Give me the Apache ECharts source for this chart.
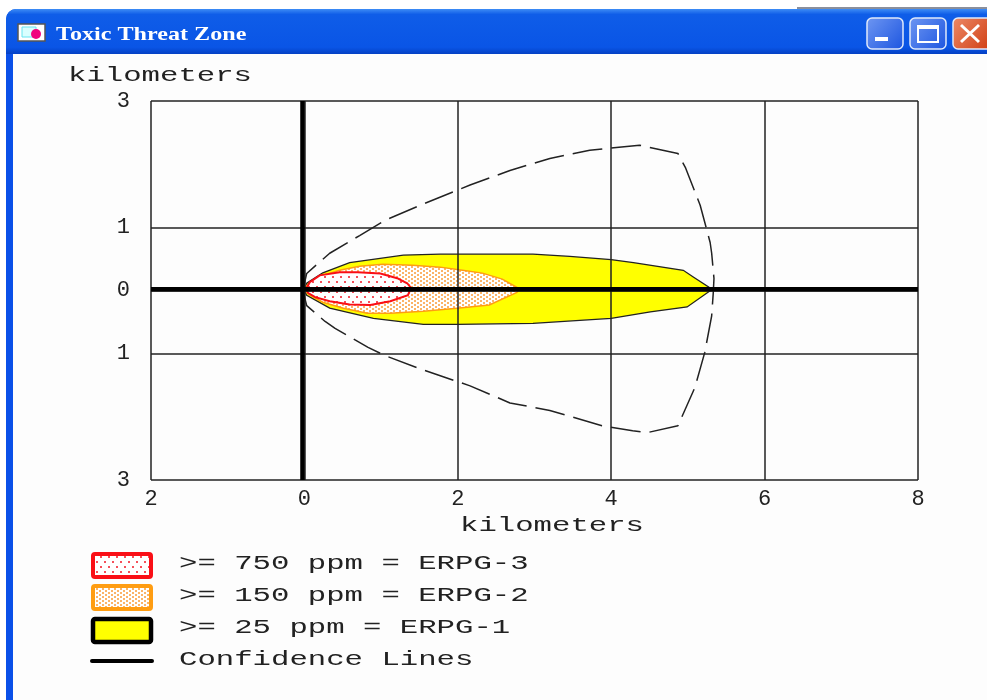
<!DOCTYPE html>
<html>
<head>
<meta charset="utf-8">
<title>Toxic Threat Zone</title>
<style>
  html, body { margin: 0; padding: 0; background: #fff; }
  #chart { width: 987px; height: 700px; }
</style>
<script src="https://cdn.jsdelivr.net/npm/echarts@6/dist/echarts.min.js"></script>
</head>
<body>
<div id="chart"></div>
<script>
// values, in kilometers [downwind, crosswind]
const erpg1Zone = [
  [0, 0], [0.03, 0.115], [0.24, 0.28], [0.59, 0.44], [1.29, 0.56], [1.77, 0.575], [2.98, 0.575],
  [3.46, 0.54], [4.00, 0.49], [4.29, 0.44], [4.94, 0.32], [5.07, 0.215], [5.29, 0.04], [5.31, 0.005],
  [5.29, -0.005], [4.99, -0.26], [4.51, -0.34], [4.00, -0.44], [2.98, -0.52], [1.99, -0.535],
  [1.55, -0.535], [0.90, -0.44], [0.33, -0.28], [0.03, -0.075]
];
const erpg2Zone = [
  [0, 0], [0.03, 0.08], [0.24, 0.24], [0.46, 0.32], [0.72, 0.385], [1.02, 0.415], [1.41, 0.40],
  [1.77, 0.37], [2.06, 0.32], [2.32, 0.275], [2.58, 0.18], [2.77, 0.05], [2.79, 0],
  [2.77, -0.03], [2.41, -0.23], [1.99, -0.28], [1.55, -0.33], [1.12, -0.36], [0.82, -0.36],
  [0.51, -0.28], [0.24, -0.185], [0.07, -0.07]
];
const erpg3Zone = [
  [0.02, 0.02], [0.07, 0.13], [0.20, 0.24], [0.46, 0.29], [0.69, 0.29], [0.99, 0.27], [1.21, 0.195],
  [1.34, 0.115], [1.39, 0.04], [1.35, -0.075], [1.12, -0.17], [0.86, -0.23], [0.59, -0.22],
  [0.33, -0.17], [0.14, -0.105], [0.05, -0.04]
];
const confidenceLine = [
  [-0.02, 0], [0.03, 0.27], [0.18, 0.43], [0.33, 0.59], [0.72, 0.87], [1.05, 1.11], [1.51, 1.35],
  [2.16, 1.67], [2.68, 1.90], [3.20, 2.09], [3.72, 2.22], [4.37, 2.30], [4.87, 2.17],
  [4.97, 1.94], [5.16, 1.35], [5.29, 0.76], [5.31, 0.59], [5.34, 0.19], [5.33, -0.05],
  [5.31, -0.40], [5.22, -0.98], [5.09, -1.54], [4.87, -2.14], [4.47, -2.25], [4.28, -2.22],
  [3.88, -2.14], [3.20, -1.90], [2.68, -1.78], [2.16, -1.51], [1.51, -1.24], [1.05, -1.03],
  [0.83, -0.90], [0.40, -0.60], [0.27, -0.49], [0.03, -0.24], [-0.02, 0]
];
const xTickValues = [-2, 0, 2, 4, 6, 8];
const yTickValues = [-3, -1, 0, 1, 3];
const axisLineX = [[-2, 0.02], [8, 0.02]];
const axisLineY = [[-0.025, -3], [-0.025, 3]];
const legendLabels = [
  '>= 750 ppm = ERPG-3',
  '>= 150 ppm = ERPG-2',
  '>= 25 ppm = ERPG-1',
  'Confidence Lines'
];
const windowTitle = 'Toxic Threat Zone';
const axisName = 'kilometers';

const TEXT_COLOR = '#222';
const MONO = '"Liberation Mono", monospace';

function dotPattern(w, h, bg, dot, size, spots) {
  const c = document.createElement('canvas');
  c.width = w;
  c.height = h;
  const ctx = c.getContext('2d');
  ctx.fillStyle = bg;
  ctx.fillRect(0, 0, w, h);
  ctx.fillStyle = dot;
  spots.forEach(s => ctx.fillRect(s[0], s[1], size, size));
  return { image: c, repeat: 'repeat' };
}
const redDots = dotPattern(8, 10, '#fff', '#f5505a', 2, [[0, 1], [4, 6]]);
const orangeDots = dotPattern(6, 4, '#fff', '#fbb468', 2, [[0, 0], [3, 2]]);

function zoneSeries(name, points, fill, stroke, width) {
  return {
    type: 'custom',
    name: name,
    coordinateSystem: 'cartesian2d',
    data: points,
    z: 2,
    silent: true,
    renderItem: function (params, api) {
      if (params.dataIndex !== 0) return;
      return {
        type: 'polygon',
        shape: { points: points.map(p => api.coord(p)) },
        style: { fill: fill, stroke: stroke, lineWidth: width }
      };
    }
  };
}

// stretched text, the old screen font is about 1.45x wider than Liberation Mono
function wideText(x, y, str, align) {
  return {
    type: 'text',
    x: x,
    y: y,
    scaleX: 1.46,
    z: 10,
    style: {
      text: str,
      fill: TEXT_COLOR,
      font: '21px ' + MONO,
      textAlign: align || 'left',
      textVerticalAlign: 'middle'
    }
  };
}

function swatch(y, fill, stroke, width) {
  return {
    type: 'rect',
    shape: { x: 93, y: y, width: 58, height: 23, r: 2 },
    z: 10,
    style: { fill: fill, stroke: stroke, lineWidth: width }
  };
}

function capButton(x, w, c1, c2) {
  return {
    type: 'rect',
    shape: { x: x, y: 18, width: w, height: 31, r: 5 },
    z: 1,
    style: {
      stroke: '#dfe9fb',
      lineWidth: 1.5,
      fill: new echarts.graphic.LinearGradient(0, 0, 1, 1, [
        { offset: 0, color: c1 },
        { offset: 1, color: c2 }
      ])
    }
  };
}

const windowFrame = [
  { type: 'rect', shape: { x: 797, y: 7, width: 190, height: 2 }, z: 0, style: { fill: '#8a8f9c' } },
  { type: 'rect', shape: { x: 6, y: 9, width: 981, height: 691, r: [10, 0, 0, 0] }, z: 0,
    style: { fill: '#0a50e8' } },
  { type: 'rect', shape: { x: 6, y: 9, width: 981, height: 45, r: [10, 0, 0, 0] }, z: 0,
    style: { fill: new echarts.graphic.LinearGradient(0, 0, 0, 1, [
      { offset: 0, color: '#3d8cf5' },
      { offset: 0.12, color: '#0f5de8' },
      { offset: 0.85, color: '#0a55e6' },
      { offset: 1, color: '#0440c4' }
    ]) } },
  { type: 'rect', shape: { x: 13, y: 54, width: 974, height: 646 }, z: 0, style: { fill: '#fdfdfd' } },
  // title bar icon
  { type: 'rect', shape: { x: 18, y: 24, width: 27, height: 17 }, z: 1,
    style: { fill: '#fff', stroke: '#555', lineWidth: 1.5 } },
  { type: 'rect', shape: { x: 22, y: 27, width: 14, height: 10 }, z: 1,
    style: { fill: '#d9ffff', stroke: '#66e5f0', lineWidth: 1 } },
  { type: 'circle', shape: { cx: 36, cy: 34, r: 5 }, z: 1, style: { fill: '#f0047f' } },
  { type: 'text', x: 56, y: 35, z: 1, scaleX: 1.27, style: {
    text: windowTitle, fill: '#fff', font: 'bold 19px "Liberation Serif", serif',
    textVerticalAlign: 'middle', shadowColor: '#06246e', shadowBlur: 1, shadowOffsetX: 1, shadowOffsetY: 1 } },
  // caption buttons
  capButton(867, 36, '#6f97f2', '#1c55e0'),
  { type: 'rect', shape: { x: 875, y: 37, width: 13, height: 4 }, z: 2, style: { fill: '#fff' } },
  capButton(910, 36, '#6f97f2', '#1c55e0'),
  { type: 'rect', shape: { x: 918, y: 27, width: 20, height: 15 }, z: 2,
    style: { fill: 'transparent', stroke: '#fff', lineWidth: 2 } },
  { type: 'rect', shape: { x: 917, y: 25, width: 22, height: 4 }, z: 2, style: { fill: '#fff' } },
  capButton(953, 40, '#ec8a68', '#cf3a0e'),
  { type: 'line', shape: { x1: 961, y1: 25, x2: 979, y2: 42 }, z: 2, style: { stroke: '#fff', lineWidth: 3 } },
  { type: 'line', shape: { x1: 979, y1: 25, x2: 961, y2: 42 }, z: 2, style: { stroke: '#fff', lineWidth: 3 } }
];

const legendGraphics = [
  swatch(554, redDots, '#fa0f16', 4),
  swatch(586, orangeDots, '#ff9d12', 4),
  swatch(619, '#ffff00', '#000', 4.5),
  { type: 'line', shape: { x1: 92, y1: 661, x2: 152, y2: 661 }, z: 10,
    style: { stroke: '#000', lineWidth: 4, lineCap: 'round' } },
  wideText(179, 563, legendLabels[0]),
  wideText(179, 595, legendLabels[1]),
  wideText(179, 627, legendLabels[2]),
  wideText(179, 659, legendLabels[3]),
  wideText(68, 75, axisName),
  wideText(460, 525, axisName)
];

const chart = echarts.init(document.getElementById('chart'));
chart.setOption({
  animation: false,
  backgroundColor: 'transparent',
  graphic: { elements: windowFrame.concat(legendGraphics) },
  grid: { left: 151, right: 69, top: 101, height: 379, show: false },
  xAxis: {
    type: 'value',
    min: -2,
    max: 8,
    interval: 2,
    z: 5,
    axisLine: { show: false },
    axisTick: { show: false },
    axisLabel: {
      margin: 8,
      color: TEXT_COLOR,
      fontFamily: MONO,
      fontSize: 22,
      customValues: xTickValues,
      formatter: v => String(Math.abs(v))
    },
    splitLine: { show: true, lineStyle: { color: '#222', width: 1.5, type: 'solid' } }
  },
  yAxis: {
    type: 'value',
    min: -3,
    max: 3,
    interval: 1,
    z: 5,
    axisLine: { show: false },
    axisTick: { show: false, customValues: yTickValues },
    axisLabel: {
      margin: 21,
      color: TEXT_COLOR,
      fontFamily: MONO,
      fontSize: 22,
      customValues: yTickValues,
      formatter: v => String(Math.abs(v))
    },
    splitLine: { show: true, lineStyle: { color: '#222', width: 1.5, type: 'solid' } }
  },
  series: [
    zoneSeries('>= 25 ppm = ERPG-1', erpg1Zone, '#ffff00', '#222', 1.3),
    zoneSeries('>= 150 ppm = ERPG-2', erpg2Zone, orangeDots, '#ff9d12', 1.5),
    zoneSeries('>= 750 ppm = ERPG-3', erpg3Zone, redDots, '#fa0f16', 2),
    {
      type: 'line',
      name: 'Confidence Lines',
      data: confidenceLine,
      z: 7,
      silent: true,
      showSymbol: false,
      lineStyle: { color: '#222', width: 1.5, type: [30, 9] }
    },
    {
      type: 'line', name: 'x axis', data: axisLineX, z: 8, silent: true, showSymbol: false,
      lineStyle: { color: '#000', width: 4.5 }
    },
    {
      type: 'line', name: 'y axis', data: axisLineY, z: 8, silent: true, showSymbol: false,
      lineStyle: { color: '#000', width: 4.5 }
    }
  ]
});
</script>
</body>
</html>
